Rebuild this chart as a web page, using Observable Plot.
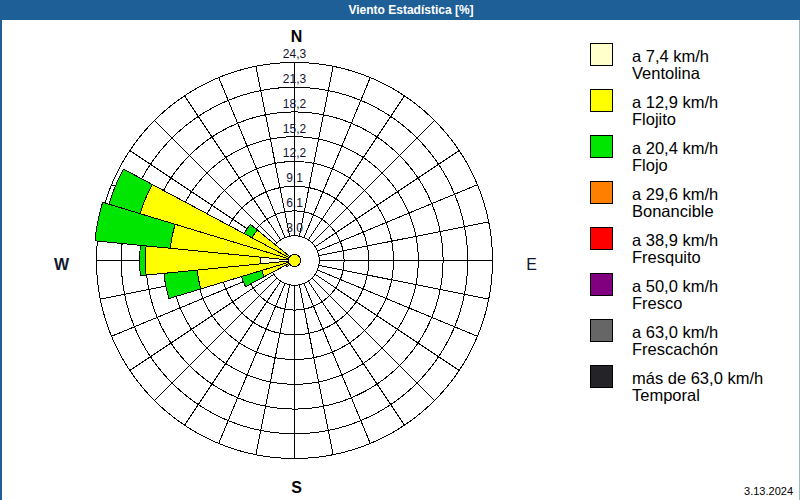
<!DOCTYPE html>
<html>
<head>
<meta charset="utf-8">
<script src="https://cdn.jsdelivr.net/npm/d3@7"></script>
<script src="https://cdn.jsdelivr.net/npm/@observablehq/plot@0.6"></script>
<style>
  body { margin: 0; background: #fff; }
  #wrap { position: relative; width: 800px; height: 500px; overflow: hidden; background: #fff;
          font-family: "Liberation Sans", Arial, sans-serif; }
  #title { position: absolute; left: 0; top: 0; width: 778px; padding-left: 22px; height: 20px; background: #1f5f97;
           color: #fff; font: bold 12px "Liberation Sans", Arial, sans-serif; text-align: center; line-height: 20px; }
  #lb { position: absolute; left: 0; top: 20px; width: 2px; height: 480px; background: #1f5f97; }
  #rb { position: absolute; right: 0; top: 20px; width: 1px; height: 480px; background: #9fb6cc; }
  #chart { position: absolute; left: 0; top: 20px; }
  .sw { position: absolute; left: 590px; width: 21px; height: 21px; border: 1px solid #000; }
  .lt { position: absolute; left: 632px; font-size: 16.5px; line-height: 17px; color: #000; white-space: nowrap; }
  #date { position: absolute; right: 7px; top: 485px; font-size: 11px; color: #000; line-height: 13px; }
</style>
</head>
<body>
<div id="wrap">
  <div id="title">Viento Estadística [%]</div>
  <div id="lb"></div>
  <div id="rb"></div>
  <div id="chart"></div>
  <div id="legend"></div>
  <div id="date">3.13.2024</div>
</div>
<script>
// ---- data ----
// 32 direction sectors (bearings in degrees, clockwise from N)
const directions = [0, 11.25, 22.5, 33.75, 45, 56.25, 67.5, 78.75, 90, 101.25, 112.5, 123.75,
  135, 146.25, 157.5, 168.75, 180, 191.25, 202.5, 213.75, 225, 236.25, 247.5, 258.75,
  270, 281.25, 292.5, 303.75, 315, 326.25, 337.5, 348.75];

// frequency (%) per direction and speed class
const ventolina  = [0,0,0,0,0,0,0,0, 0,0,0,0,0,0,0,0, 0,0,0,0,0,0.5,0.4,0.5, 4.2,0.5,0.5,0.4,0,0,0,0];
const flojito    = [0,0,0,0,0,0,0,0, 0,0,0,0,0,0,0,0, 0,0,0,0,0,0.7,3.8,11.5, 14.1,14.8,19.3,5.5,0,0,0,0];
const flojo      = [0,0,0,0,0,0,0,0, 0,0,0,0,0,0,0,0, 0,0,0,0,0,0,2.6,4.1, 0.7,9.3,4.0,1.1,0,0,0,0];
const bonancible = [0,0,0,0,0,0,0,0, 0,0,0,0,0,0,0,0, 0,0,0,0,0,0,0,0, 0,0,0,0,0,0,0,0];
const fresquito  = [0,0,0,0,0,0,0,0, 0,0,0,0,0,0,0,0, 0,0,0,0,0,0,0,0, 0,0,0,0,0,0,0,0];
const fresco     = [0,0,0,0,0,0,0,0, 0,0,0,0,0,0,0,0, 0,0,0,0,0,0,0,0, 0,0,0,0,0,0,0,0];
const frescachon = [0,0,0,0,0,0,0,0, 0,0,0,0,0,0,0,0, 0,0,0,0,0,0,0,0, 0,0,0,0,0,0,0,0];
const temporal   = [0,0,0,0,0,0,0,0, 0,0,0,0,0,0,0,0, 0,0,0,0,0,0,0,0, 0,0,0,0,0,0,0,0];
const calm = 0.74;

const classNames  = ["Ventolina", "Flojito", "Flojo", "Bonancible", "Fresquito", "Fresco", "Frescachón", "Temporal"];
const classLabels = ["a 7,4 km/h", "a 12,9 km/h", "a 20,4 km/h", "a 29,6 km/h", "a 38,9 km/h", "a 50,0 km/h", "a 63,0 km/h", "más de 63,0 km/h"];
const classColors = ["#ffffcc", "#ffff00", "#00e600", "#ff8000", "#ff0000", "#800080", "#666666", "#242428"];
const series = [ventolina, flojito, flojo, bonancible, fresquito, fresco, frescachon, temporal];

const ringValues = [3.04, 6.08, 9.11, 12.15, 15.19, 18.23, 21.26, 24.3];
const tickLabels = ["3,0", "6,1", "9,1", "12,2", "15,2", "18,2", "21,3", "24,3"];
const compass = [{label: "N", bearing: 0}, {label: "E", bearing: 90}, {label: "S", bearing: 180}, {label: "W", bearing: 270}];

// ---- geometry helpers (polar via azimuthal-equidistant projection) ----
const R = ringValues[ringValues.length - 1];
const sectorWidth = 360 / directions.length;
const lon = b => 180 - b;       // bearing -> longitude
const lat = r => 90 - r;        // radius (%) -> latitude

function wedge(b, r0, r1, cls) {
  const a0 = b - sectorWidth / 2, a1 = b + sectorWidth / 2, n = 24;
  const rin = Math.max(r0, 0.02);
  const outer = d3.range(n + 1).map(j => [lon(a0 + (a1 - a0) * j / n), lat(r1)]);
  const inner = d3.range(n + 1).map(j => [lon(a1 - (a1 - a0) * j / n), lat(rin)]);
  const ring = [...outer, ...inner, outer[0]];
  const f = {type: "Feature", properties: {cls}, geometry: {type: "Polygon", coordinates: [ring]}};
  if (d3.geoArea(f) > 2 * Math.PI) ring.reverse();
  return f;
}

const segments = [];
directions.forEach((b, i) => {
  let cum = 0;
  series.forEach((s, k) => {
    const v = s[i];
    if (v > 0) segments.push(wedge(b, cum, cum + v, classNames[k]));
    cum += v;
  });
});

const rings = ringValues.map(v => d3.geoCircle().center([0, 90]).radius(v).precision(1)());
const calmDisk = d3.geoCircle().center([0, 90]).radius(calm).precision(2)();

const chart = Plot.plot({
  width: 588, height: 480,
  marginLeft: 96, marginRight: 96, marginTop: 42, marginBottom: 42,
  style: {fontFamily: "Liberation Sans, Arial, sans-serif", background: "transparent", overflow: "visible"},
  projection: {type: "azimuthal-equidistant", rotate: [0, -90], clip: false,
               domain: d3.geoCircle().center([0, 90]).radius(R).precision(1)()},
  color: {domain: classNames, range: classColors},
  marks: [
    Plot.geo(rings, {fill: "none", stroke: "#000", strokeWidth: 1}),
    Plot.link(directions, {x1: b => lon(b), y1: () => lat(ringValues[0]), x2: b => lon(b), y2: () => lat(R),
                           stroke: "#000", strokeWidth: 1}),
    Plot.geo(segments, {fill: d => d.properties.cls, stroke: "#000", strokeWidth: 1}),
    Plot.geo([calmDisk], {fill: "#ffff00", stroke: "#000", strokeWidth: 1}),
    Plot.text(ringValues, {x: () => lon(0), y: v => lat(v), text: (v, i) => tickLabels[i],
                           dy: -8, fill: "#141432", fontSize: 12}),
    Plot.text(compass.filter(d => d.label === "N"),
              {x: d => lon(d.bearing), y: () => lat(27.4), text: "label", dx: 2,
               fontSize: 16, fontWeight: "bold", fill: "#000"}),
    Plot.text(compass.filter(d => d.label === "S"),
              {x: d => lon(d.bearing), y: () => lat(27.9), text: "label", dx: 2,
               fontSize: 16, fontWeight: "bold", fill: "#000"}),
    Plot.text(compass.filter(d => d.label === "W"),
              {x: d => lon(d.bearing), y: () => lat(28.6), text: "label", dy: 4,
               fontSize: 16, fontWeight: "bold", fill: "#101830"}),
    Plot.text(compass.filter(d => d.label === "E"),
              {x: d => lon(d.bearing), y: () => lat(29.1), text: "label", dy: 4,
               fontSize: 16, fill: "#101830"})
  ]
});
chart.setAttribute("shape-rendering", "crispEdges");
document.getElementById("chart").appendChild(chart);

// ---- legend ----
const legend = document.getElementById("legend");
classNames.forEach((name, i) => {
  const sw = document.createElement("div");
  sw.className = "sw";
  sw.style.top = (43 + 46 * i) + "px";
  sw.style.background = classColors[i];
  legend.appendChild(sw);
  const t = document.createElement("div");
  t.className = "lt";
  t.style.top = (48 + 46 * i) + "px";
  t.innerHTML = classLabels[i] + "<br>" + name;
  legend.appendChild(t);
});
</script>
</body>
</html>
